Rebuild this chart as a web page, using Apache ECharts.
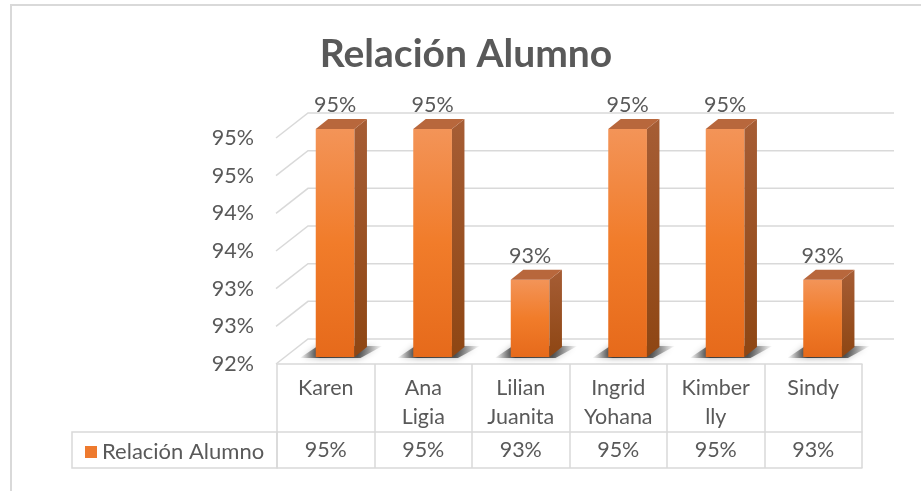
<!DOCTYPE html>
<html>
<head>
<meta charset="utf-8">
<script src="https://cdn.jsdelivr.net/npm/echarts@6/dist/echarts.min.js"></script>
<style>
  html, body { margin: 0; padding: 0; background: #fff; }
  #chart { width: 921px; height: 491px; }
</style>
</head>
<body>
<div id="chart"></div>
<script>
// datos del grafico
var categories = ['Karen', 'Ana\nLigia', 'Lilian\nJuanita', 'Ingrid\nYohana', 'Kimber\nlly', 'Sindy']
var values = [95, 95, 93, 95, 95, 93]
var yTicks = [92, 92.5, 93, 93.5, 94, 94.5, 95]
var seriesName = 'Relación Alumno'

var textColor = '#595959'
var lineColor = '#d9d9d9'
var font = 'Lato'
var fs = 21.5
var yMin = 92

var frontColor = new echarts.graphic.LinearGradient(0, 0, 0, 1, [
  { offset: 0, color: '#F39458' },
  { offset: 0.5, color: '#F17C2A' },
  { offset: 1, color: '#E66A1B' }
])
var sideColor = new echarts.graphic.LinearGradient(0, 0, 0, 1, [
  { offset: 0, color: '#A65D35' },
  { offset: 1, color: '#8E4613' }
])
// sombra difusa sobre el piso
var shadowColor = new echarts.graphic.LinearGradient(0, 0, 1, 0, [
  { offset: 0, color: 'rgba(0,0,0,0)' },
  { offset: 0.25, color: 'rgba(0,0,0,0.7)' },
  { offset: 0.7, color: 'rgba(0,0,0,0.6)' },
  { offset: 1, color: 'rgba(0,0,0,0)' }
])

// pared del fondo + diagonales laterales
function renderGrid(params, api) {
  var cs = params.coordSys
  var p = api.coord([0, api.value(1)])
  var y = p[1]
  return {
    type: 'polyline',
    shape: { points: [[cs.x - 1, y], [cs.x + 31, y - 25], [cs.x + cs.width + 32, y - 25]] },
    style: { stroke: lineColor, lineWidth: 1.5, fill: null },
    silent: true
  }
}

// barras 3D
function renderBar(params, api) {
  var idx = api.value(0)
  var val = api.value(1)
  var top = api.coord([idx, val])
  var base = api.coord([idx, yMin])
  var l = top[0] - 10
  var r = top[0] + 28.7
  var t = top[1] - 9
  var b = base[1] - 7
  var dx = 12.5
  var dy = 10
  return {
    type: 'group',
    children: [
      {
        type: 'polygon',
        shape: { points: [[l - 16, b + 1], [r + 6, b + 1], [r + 28, b - 11], [l + 2, b - 11]] },
        style: { fill: shadowColor, shadowBlur: 6, shadowColor: 'rgba(0,0,0,0.5)' }
      },
      {
        type: 'rect',
        shape: { x: l, y: t, width: r - l, height: b - t },
        style: { fill: frontColor }
      },
      {
        type: 'polygon',
        shape: { points: [[r, t], [r + dx, t - dy], [r + dx, b - dy], [r, b]] },
        style: { fill: sideColor }
      },
      {
        type: 'polygon',
        shape: { points: [[l, t], [l + dx, t - dy], [r + dx, t - dy], [r, t]] },
        style: { fill: '#B8673C' }
      },
      {
        type: 'text',
        x: (l + r) / 2,
        y: t - 24,
        style: {
          text: Math.round(val) + '%',
          fill: textColor,
          fontSize: fs,
          fontFamily: font,
          align: 'center',
          verticalAlign: 'middle'
        }
      }
    ]
  }
}

var myChart = echarts.init(document.getElementById('chart'), null, { renderer: 'canvas' })
var option = {
  animation: false,
  backgroundColor: '#fff',
  title: {
    text: seriesName,
    left: 461,
    top: 30,
    textAlign: 'center',
    textStyle: { color: textColor, fontSize: 39, fontWeight: 'bold', fontFamily: font }
  },
  legend: {
    data: [seriesName],
    left: 80,
    top: 436,
    icon: 'rect',
    itemWidth: 12,
    itemHeight: 12,
    itemGap: 6,
    textStyle: { color: textColor, fontSize: 22, fontFamily: font }
  },
  grid: { left: 277, right: 59, top: 138, bottom: 127 },
  xAxis: [
    {
      type: 'category',
      data: categories,
      position: 'bottom',
      axisLine: { lineStyle: { color: lineColor, width: 1.5 } },
      axisTick: { show: true, length: 104, lineStyle: { color: lineColor, width: 1.5 } },
      axisLabel: {
        color: textColor, fontSize: fs, fontFamily: font,
        lineHeight: 29, verticalAlign: 'top', margin: 10
      }
    },
    {
      type: 'category',
      data: categories,
      position: 'bottom',
      offset: 68,
      axisLine: { lineStyle: { color: lineColor, width: 1.5 } },
      axisTick: { show: false },
      axisLabel: {
        color: textColor, fontSize: fs, fontFamily: font,
        verticalAlign: 'middle', margin: 18,
        formatter: function(v, i) { return values[i] + '%' }
      }
    },
    {
      type: 'category',
      data: categories,
      position: 'bottom',
      offset: 104,
      axisLine: { lineStyle: { color: lineColor, width: 1.5 } },
      axisTick: { show: false },
      axisLabel: { show: false }
    }
  ],
  yAxis: {
    type: 'value',
    min: 92,
    max: 95,
    interval: 0.5,
    axisLine: { show: false },
    axisTick: { show: false },
    splitLine: { show: false },
    axisLabel: {
      color: textColor, fontSize: fs, fontFamily: font, margin: 23,
      padding: [4, 0, 0, 0],
      formatter: function(v) { return Math.round(v) + '%' }
    }
  },
  graphic: [
    {
      type: 'polyline',
      shape: { points: [[11, 491], [11, 5], [921, 5]] },
      style: { stroke: lineColor, lineWidth: 2, fill: null },
      silent: true
    },
    {
      type: 'rect',
      shape: { x: 72, y: 432, width: 205, height: 36 },
      style: { stroke: lineColor, lineWidth: 1.5, fill: null },
      silent: true,
      z: -1
    }
  ],
  series: [
    {
      name: 'grid3d',
      type: 'custom',
      renderItem: renderGrid,
      data: yTicks.map(function(v) { return [0, v] }),
      silent: true,
      z: 1
    },
    {
      name: seriesName,
      type: 'custom',
      renderItem: renderBar,
      itemStyle: { color: '#EE7A2E' },
      data: values.map(function(v, i) { return [i, v] }),
      z: 3
    }
  ]
}
myChart.setOption(option)
</script>
</body>
</html>
